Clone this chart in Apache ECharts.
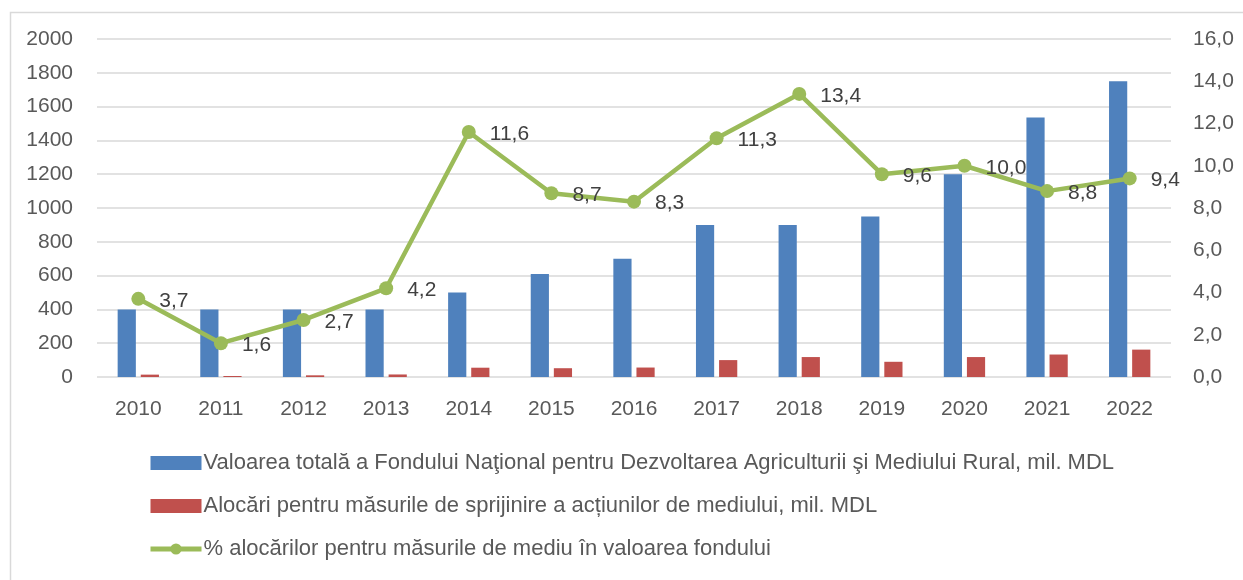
<!DOCTYPE html>
<html>
<head>
<meta charset="utf-8">
<script src="https://cdn.jsdelivr.net/npm/echarts@6/dist/echarts.min.js"></script>
<style>
  html, body { margin: 0; padding: 0; background: #ffffff; }
  #chart { width: 1243px; height: 580px; }
</style>
</head>
<body>
<div id="chart"></div>
<script>
// Fondul Național pentru Dezvoltarea Agriculturii și Mediului Rural, 2010–2022
const years = ['2010', '2011', '2012', '2013', '2014', '2015', '2016', '2017', '2018', '2019', '2020', '2021', '2022'];
// total value of the fund, mil. MDL
const totalFund = [400, 400, 400, 400, 500, 610, 700, 900, 900, 950, 1200, 1535, 1750];
// allocations for environmental measures, mil. MDL
const envAlloc = [14, 6, 10, 15, 55, 52, 56, 100, 118, 90, 118, 133, 162];
// share of environmental allocations in the fund, %
const envShare = [3.7, 1.6, 2.7, 4.2, 11.6, 8.7, 8.3, 11.3, 13.4, 9.6, 10.0, 8.8, 9.4];

const seriesNames = [
  'Valoarea totală a Fondului Naţional pentru Dezvoltarea Agriculturii şi Mediului Rural, mil. MDL',
  'Alocări pentru măsurile de sprijinire a acțiunilor de mediului, mil. MDL',
  '% alocărilor pentru măsurile de mediu în valoarea fondului'
];

const FONT = '"Liberation Sans", Arial, sans-serif';
const comma = v => v.toFixed(1).replace('.', ',');

const chart = echarts.init(document.getElementById('chart'), null, { renderer: 'canvas' });

chart.setOption({
  animation: false,
  backgroundColor: '#ffffff',
  textStyle: { fontFamily: FONT },
  graphic: [{
    type: 'rect',
    left: 8, top: 10,
    shape: { x: 0.5, y: 0.5, width: 1400, height: 800 },
    style: { fill: 'none', stroke: '#d9d9d9', lineWidth: 1.5 },
    silent: true,
    z: -1
  }],
  grid: { left: 97, right: 72, top: 39, bottom: 203, containLabel: false },
  legend: {
    orient: 'vertical',
    left: 148,
    top: 452,
    height: 140,
    padding: 0,
    itemWidth: 51,
    itemHeight: 14,
    itemGap: 21,
    textStyle: { fontFamily: FONT, fontSize: 22, color: '#595959', padding: [0, 0, 0, -3] },
    lineStyle: { width: 5 },
    data: [
      { name: seriesNames[0], icon: 'rect' },
      { name: seriesNames[1], icon: 'rect' },
      { name: seriesNames[2] }
    ]
  },
  xAxis: {
    type: 'category',
    data: years,
    axisLine: { show: false },
    axisTick: { show: false },
    axisLabel: { fontFamily: FONT, fontSize: 21, color: '#595959', margin: 22 }
  },
  yAxis: [{
    type: 'value',
    min: 0, max: 2000, interval: 200,
    axisLine: { show: false },
    axisTick: { show: false },
    splitLine: { lineStyle: { color: '#d9d9d9', width: 1.5 } },
    axisLabel: { fontFamily: FONT, fontSize: 21, color: '#595959', margin: 24, formatter: v => String(v) }
  }, {
    type: 'value',
    min: 0, max: 16, interval: 2,
    position: 'right',
    axisLine: { show: false },
    axisTick: { show: false },
    splitLine: { show: false },
    axisLabel: { fontFamily: FONT, fontSize: 21, color: '#595959', margin: 22, formatter: comma }
  }],
  series: [{
    name: seriesNames[0],
    type: 'bar',
    data: totalFund,
    barGap: '27%',
    barCategoryGap: '50%',
    itemStyle: { color: '#4f81bd' }
  }, {
    name: seriesNames[1],
    type: 'bar',
    data: envAlloc,
    itemStyle: { color: '#c0504d' }
  }, {
    name: seriesNames[2],
    type: 'line',
    yAxisIndex: 1,
    data: envShare,
    symbol: 'circle',
    symbolSize: 14,
    lineStyle: { color: '#9bbb59', width: 4.5 },
    itemStyle: { color: '#9bbb59' },
    label: {
      show: true,
      position: 'right',
      distance: 14,
      offset: [0, 2],
      fontFamily: FONT,
      fontSize: 21,
      color: '#404040',
      formatter: p => comma(p.value)
    },
    z: 5
  }]
});
</script>
</body>
</html>
